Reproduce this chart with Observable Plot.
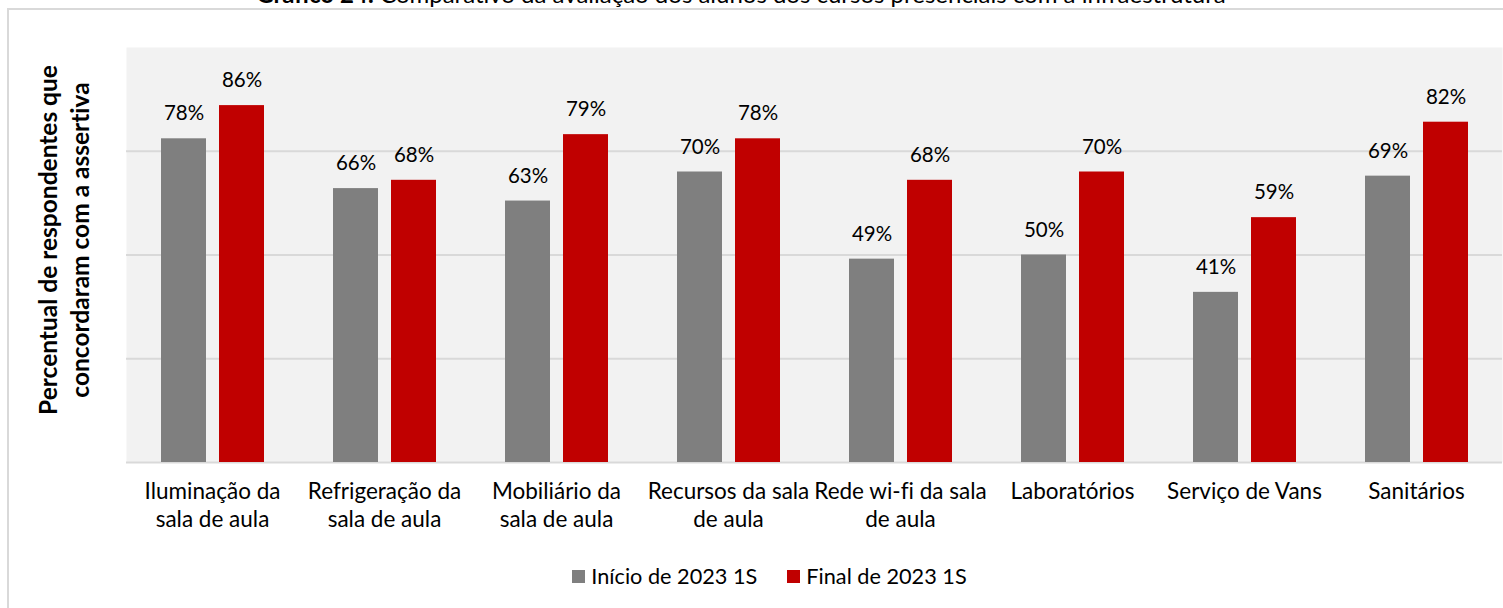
<!DOCTYPE html>
<html><head><meta charset="utf-8">
<script src="https://cdn.jsdelivr.net/npm/d3@7"></script>
<script src="https://cdn.jsdelivr.net/npm/@observablehq/plot@0.6"></script>
<style>
body{margin:0;background:#fff;font-family:Lato, "Open Sans", sans-serif;color:#000;font-variant-ligatures:none;}
svg text{font-variant-ligatures:none;font-feature-settings:"liga" 0;}
#wrap{position:relative;width:1503px;height:608px;overflow:hidden;background:#fff;}
#title{position:absolute;left:0;width:1482px;text-align:center;top:-18px;font-size:24px;line-height:24px;white-space:nowrap;}
#border{position:absolute;left:7px;top:8px;width:1600px;height:700px;border-left:2px solid #d9d9d9;border-top:2px solid #d9d9d9;}
#chart{position:absolute;left:0;top:0;}
#legend{position:absolute;top:564px;left:0;width:1539px;display:flex;justify-content:center;align-items:center;font-size:21.7px;line-height:24px;}
.item{display:flex;align-items:center;margin:0 15px;}
.sw{width:13px;height:13px;margin-right:6px;}
</style>
</head><body>
<div id="wrap">
  <div id="border"></div>
  <div id="title"><b>Gráfico 24:</b> Comparativo da avaliação dos alunos dos cursos presenciais com a infraestrutura</div>
  <div id="chart"></div>
  <div id="legend"></div>
</div>
<script>
const categories = ["Iluminação da sala de aula","Refrigeração da sala de aula","Mobiliário da sala de aula","Recursos da sala de aula","Rede wi-fi da sala de aula","Laboratórios","Serviço de Vans","Sanitários"];
const tickLabels = ["Iluminação da\nsala de aula","Refrigeração da\nsala de aula","Mobiliário da\nsala de aula","Recursos da sala\nde aula","Rede wi-fi da sala\nde aula","Laboratórios","Serviço de Vans","Sanitários"];
const seriesNames = ["Início de 2023 1S","Final de 2023 1S"];
const inicio = [78,66,63,70,49,50,41,69];
const final = [86,68,79,78,68,70,59,82];
const gridValues = [25,50,75];
const seriesColors = ["#7f7f7f","#c00000"];
const yTitle = "Percentual de respondentes que\nconcordaram com a assertiva";

const rowsInicio = categories.map((c,i)=>({category:c, value:inicio[i]}));
const rowsFinal = categories.map((c,i)=>({category:c, value:final[i]}));
const tickRows = categories.map((c,i)=>({category:c, label:tickLabels[i]}));

const chart = Plot.plot({
  width:1503, height:545,
  marginLeft:126, marginRight:1, marginTop:47, marginBottom:83,
  style:{fontFamily:"Lato, 'Open Sans', sans-serif", color:"#000", background:"transparent"},
  x:{domain:categories, axis:null, padding:0, round:false},
  y:{domain:[0,100], axis:null},
  marks:[
    Plot.frame({fill:"#f2f2f2", stroke:"none"}),
    Plot.ruleY(gridValues,{stroke:"#d9d9d9", strokeWidth:2}),
    Plot.ruleY([0],{stroke:"#d9d9d9", strokeWidth:2}),
    Plot.barY(rowsInicio,{x:"category", y:"value", fill:seriesColors[0], insetLeft:35, insetRight:92}),
    Plot.barY(rowsFinal,{x:"category", y:"value", fill:seriesColors[1], insetLeft:93, insetRight:34}),
    Plot.text(rowsInicio,{x:"category", y:"value", text:d=>d.value+"%", dx:-28.5, dy:-25, fontSize:20.5, fill:"#000"}),
    Plot.text(rowsFinal,{x:"category", y:"value", text:d=>d.value+"%", dx:29.5, dy:-25, fontSize:20.5, fill:"#000"}),
    Plot.text(tickRows,{x:"category", frameAnchor:"bottom", text:"label", lineAnchor:"top", dy:17, fontSize:22.5, lineHeight:1.24, fill:"#000"}),
    Plot.text([yTitle],{frameAnchor:"left", rotate:-90, textAnchor:"middle", dx:-64, dy:-15, fontWeight:"bold", fontSize:24.5, lineHeight:1.32, fill:"#000"})
  ]
});
document.getElementById("chart").appendChild(chart);

const legend = document.getElementById("legend");
seriesNames.forEach((name,i)=>{
  const it = document.createElement("div"); it.className="item";
  const sw = document.createElement("div"); sw.className="sw"; sw.style.background=seriesColors[i];
  const tx = document.createElement("span"); tx.textContent=name;
  it.appendChild(sw); it.appendChild(tx); legend.appendChild(it);
});
</script>
</body></html>
